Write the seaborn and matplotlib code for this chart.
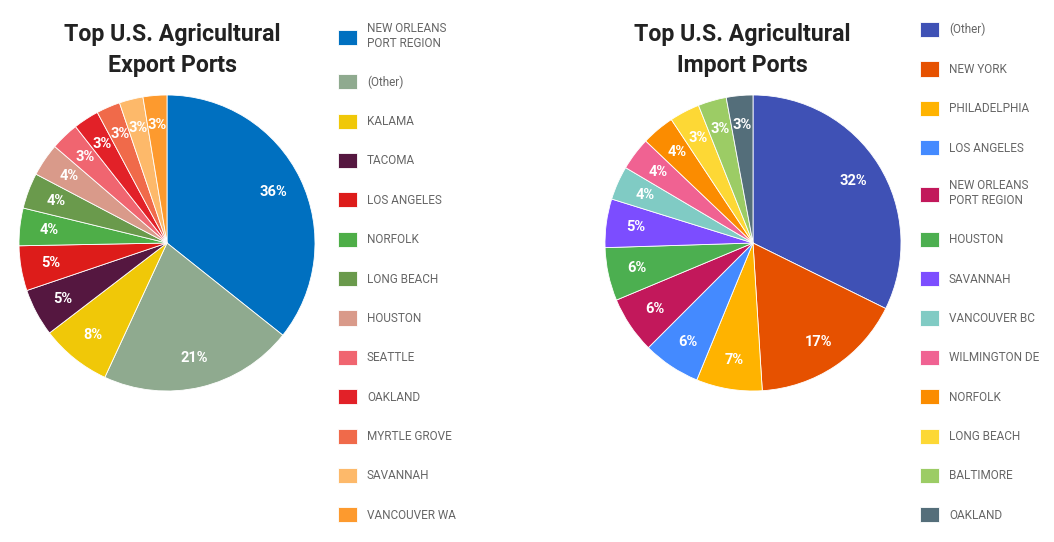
import matplotlib
matplotlib.use('Agg')
import matplotlib.pyplot as plt
import seaborn as sns

sns.set_theme(style='white')
plt.rcParams['font.family'] = ['Roboto', 'DejaVu Sans']

# ---- data ----
export_ports = ['NEW ORLEANS\nPORT REGION', '(Other)', 'KALAMA', 'TACOMA', 'LOS ANGELES',
                'NORFOLK', 'LONG BEACH', 'HOUSTON', 'SEATTLE', 'OAKLAND',
                'MYRTLE GROVE', 'SAVANNAH', 'VANCOUVER WA']
export_share = [35.7, 21.2, 7.7, 5.2, 4.9, 4.1, 3.9, 3.6, 3.1, 2.8, 2.6, 2.6, 2.6]
export_colors = ['#0070C0', '#8FAA8F', '#F0C808', '#551740', '#DD1C1A', '#4EAE48',
                 '#6A9A4C', '#D99A8A', '#F06570', '#E22128', '#F06A4A', '#FDB96A', '#FD9A2E']

import_ports = ['(Other)', 'NEW YORK', 'PHILADELPHIA', 'LOS ANGELES',
                'NEW ORLEANS\nPORT REGION', 'HOUSTON', 'SAVANNAH', 'VANCOUVER BC',
                'WILMINGTON DE', 'NORFOLK', 'LONG BEACH', 'BALTIMORE', 'OAKLAND']
import_share = [32.3, 16.7, 7.2, 6.3, 6.2, 5.8, 5.3, 3.7, 3.6, 3.6, 3.3, 3.1, 2.9]
import_colors = ['#3F51B5', '#E65100', '#FFB300', '#448AFF', '#C2185B', '#4CAF50',
                 '#7C4DFF', '#80CBC4', '#F06292', '#FB8C00', '#FDD835', '#9CCC65', '#546E7A']

W, H = 1054, 542
fig = plt.figure(figsize=(W / 100, H / 100), dpi=100)


def draw(cx, title, tx, ports, share, colors, lx):
    ax = fig.add_axes([(cx - 148) / W, (H - 243 - 148) / H, 296 / W, 296 / H])
    wedges, _, autotexts = ax.pie(
        share, colors=colors, startangle=90, counterclock=False,
        autopct='%.0f%%', pctdistance=0.8,
        wedgeprops=dict(edgecolor='white', linewidth=0.6),
        textprops=dict(color='white', fontsize=10.5, fontweight='bold'))
    ax.set_xlim(-1, 1)
    ax.set_ylim(-1, 1)
    ax.set_aspect('equal')
    ax.axis('off')
    fig.text(tx / W, 1 - 50 / H, title, ha='center', va='center',
             fontsize=16.7, fontweight='bold', color='#222222', linespacing=1.45)
    leg = fig.legend(wedges, ports, loc='upper left', bbox_to_anchor=(lx / W, 1 - 22 / H),
                     frameon=False, fontsize=8.5, handlelength=1.6, handleheight=1.6,
                     handletextpad=0.85, labelspacing=2.05, borderaxespad=0, borderpad=0)
    for t in leg.get_texts():
        t.set_color('#666666')
    return ax


draw(167, 'Top U.S. Agricultural\nExport Ports', 172, export_ports, export_share, export_colors, 338)
draw(753, 'Top U.S. Agricultural\nImport Ports', 742, import_ports, import_share, import_colors, 920)

fig.savefig('out.png', dpi=100, facecolor='white')
